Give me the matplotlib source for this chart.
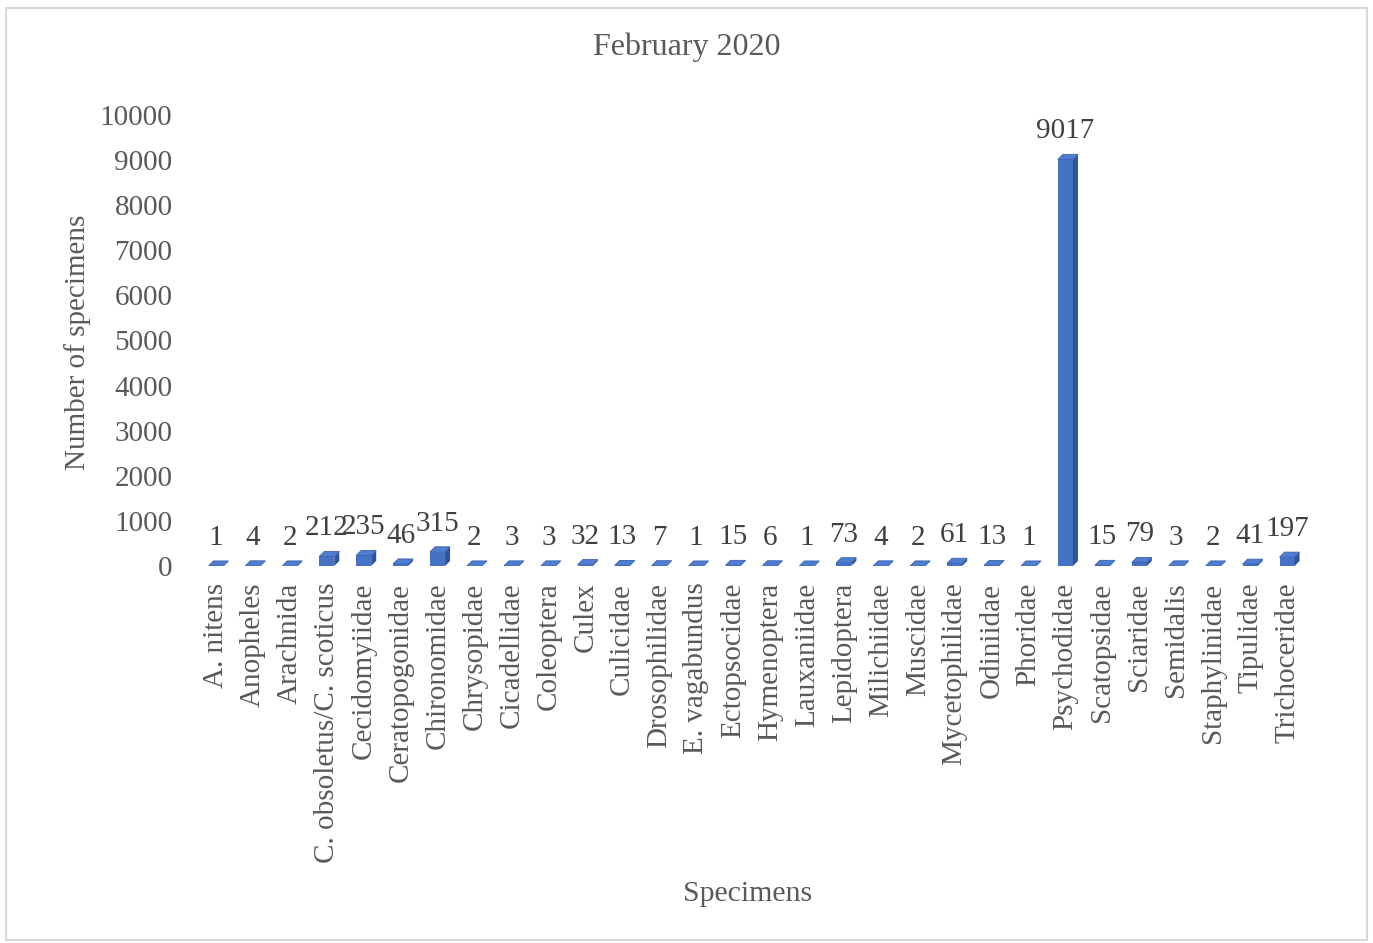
import matplotlib
matplotlib.use("Agg")
import matplotlib.pyplot as plt
from matplotlib.patches import Polygon, Rectangle

categories = [
    "A. nitens", "Anopheles", "Arachnida", "C. obsoletus/C. scoticus",
    "Cecidomyiidae", "Ceratopogonidae", "Chironomidae", "Chrysopidae",
    "Cicadellidae", "Coleoptera", "Culex", "Culicidae", "Drosophilidae",
    "E. vagabundus", "Ectopsocidae", "Hymenoptera", "Lauxaniidae",
    "Lepidoptera", "Milichiidae", "Muscidae", "Mycetophilidae", "Odiniidae",
    "Phoridae", "Psychodidae", "Scatopsidae", "Sciaridae", "Semidalis",
    "Staphylinidae", "Tipulidae", "Trichoceridae",
]
counts = [
    1, 4, 2, 212, 235, 46, 315, 2, 3, 3, 32, 13, 7, 1, 15, 6, 1, 73, 4, 2,
    61, 13, 1, 9017, 15, 79, 3, 2, 41, 197,
]
y_ticks = list(range(0, 10001, 1000))

W, H, DPI = 1373, 943, 100
fig = plt.figure(figsize=(W / DPI, H / DPI), dpi=DPI)
fig.patch.set_facecolor("white")
plt.rcParams["font.family"] = ["Liberation Serif", "DejaVu Serif"]

GRAY = "#595959"
DARK = "#404040"

# chart frame
fig.patches.append(Rectangle((6 / W, 3 / H), 1361 / W, 932 / H,
                             transform=fig.transFigure, fill=False,
                             edgecolor="#d9d9d9", linewidth=1.5))

# plot area in pixels
left_px, right_px = 197.5, 1305.5
zero_px, top_px = 566, 115
ax = fig.add_axes([left_px / W, (H - zero_px) / H,
                   (right_px - left_px) / W, (zero_px - top_px) / H])
ax.set_xlim(-0.5, len(categories) - 0.5)
ax.set_ylim(0, 10000)
for s in ax.spines.values():
    s.set_visible(False)
ax.set_facecolor("none")

# pixel -> data conversions for the 3D depth
px_x = (len(categories)) / (right_px - left_px)
px_y = 10000 / (zero_px - top_px)
depth_dx = 5.0 * px_x
depth_dy = 5.0 * px_y
bar_w = 15.0 * px_x

FRONT = "#4472C4"
TOP = "#4f7dcf"
SIDE = "#2F5597"

for i, v in enumerate(counts):
    x0, x1 = i - bar_w / 2, i + bar_w / 2
    ax.add_patch(Rectangle((x0, 0), bar_w, v, facecolor=FRONT,
                           edgecolor="none", zorder=3))
    ax.add_patch(Polygon([(x1, 0), (x1 + depth_dx, depth_dy),
                          (x1 + depth_dx, v + depth_dy), (x1, v)],
                         closed=True, facecolor=SIDE, edgecolor="none",
                         zorder=3))
    ax.add_patch(Polygon([(x0, v), (x1, v), (x1 + depth_dx, v + depth_dy),
                          (x0 + depth_dx, v + depth_dy)],
                         closed=True, facecolor=TOP, edgecolor="#3a64b0",
                         linewidth=0.6, zorder=4))
    ax.annotate(str(v), (i, v), xytext=(0, 15), textcoords="offset pixels",
                ha="center", va="bottom", fontsize=21, color=DARK,
                zorder=5)

ax.set_yticks(y_ticks)
ax.set_yticklabels([str(t) for t in y_ticks])
ax.set_xticks(range(len(categories)))
ax.set_xticklabels(categories, rotation=90, va="top", ha="center")
ax.tick_params(axis="both", length=0, labelsize=21, labelcolor=GRAY)
ax.tick_params(axis="x", pad=12)
ax.tick_params(axis="y", pad=18)

fig.text(687 / W, 1 - 47 / H, "February 2020", ha="center", va="center",
         fontsize=23, color=GRAY)
fig.text(748 / W, 1 - 894 / H, "Specimens", ha="center", va="center",
         fontsize=21.5, color=GRAY)
fig.text(78 / W, 1 - 342 / H, "Number of specimens", ha="center",
         va="center", rotation=90, fontsize=21, color=GRAY)

fig.savefig("out.png", dpi=DPI)
